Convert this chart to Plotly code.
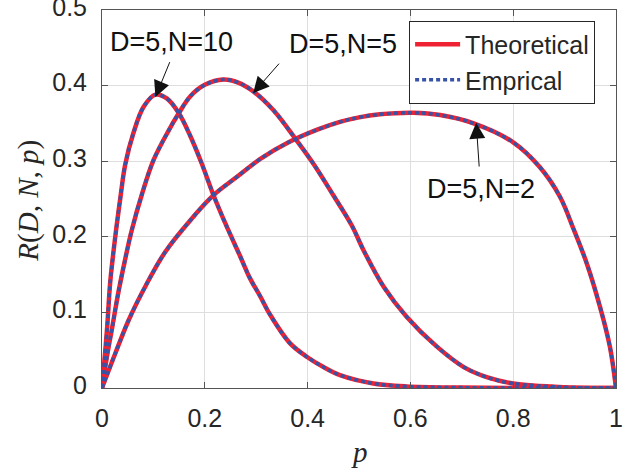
import plotly.graph_objects as go

# ---- data ----
p_n10 = [0, 0.0097, 0.016, 0.026, 0.036, 0.045, 0.061, 0.081, 0.104, 0.126, 0.149, 0.172, 0.194,
         0.217, 0.243, 0.269, 0.288, 0.308, 0.327, 0.366, 0.399, 0.430, 0.463, 0.528, 0.593, 0.70, 0.85, 1.0]
r_n10 = [0, 0.077, 0.140, 0.201, 0.253, 0.295, 0.337, 0.372, 0.388, 0.383, 0.364, 0.333, 0.297,
         0.255, 0.213, 0.174, 0.145, 0.121, 0.097, 0.059, 0.041, 0.028, 0.017, 0.006, 0.002, 0.0005, 0, 0]

p_n5 = [0, 0.010, 0.019, 0.032, 0.045, 0.058, 0.078, 0.100, 0.126, 0.149, 0.172, 0.200, 0.236, 0.265,
        0.295, 0.334, 0.376, 0.411, 0.450, 0.486, 0.509, 0.548, 0.593, 0.651, 0.703, 0.750, 0.800, 0.90, 1.0]
r_n5 = [0, 0.043, 0.077, 0.127, 0.170, 0.209, 0.257, 0.301, 0.336, 0.363, 0.386, 0.401, 0.408, 0.404,
        0.392, 0.367, 0.330, 0.297, 0.255, 0.215, 0.182, 0.134, 0.094, 0.055, 0.028, 0.014, 0.006, 0.001, 0]

p_n2 = [0, 0.026, 0.052, 0.084, 0.123, 0.172, 0.217, 0.262, 0.308, 0.363, 0.420, 0.463, 0.500,
        0.541, 0.606, 0.658, 0.723, 0.800, 0.852, 0.891, 0.917, 0.943, 0.969, 0.988, 1.0]
r_n2 = [0, 0.046, 0.090, 0.134, 0.180, 0.222, 0.255, 0.279, 0.303, 0.325, 0.342, 0.352, 0.358,
        0.362, 0.364, 0.361, 0.350, 0.325, 0.292, 0.253, 0.211, 0.165, 0.107, 0.055, 0]

x_ticks = [0, 0.2, 0.4, 0.6, 0.8, 1]
y_ticks = [0, 0.1, 0.2, 0.3, 0.4, 0.5]

curves = [(p_n10, r_n10), (p_n5, r_n5), (p_n2, r_n2)]

RED = "#ef2233"
BLUE = "#3653a6"
TXT = "#262626"

fig = go.Figure()
for i, (px, ry) in enumerate(curves):
    fig.add_trace(go.Scatter(x=px, y=ry, mode="lines", name="Theoretical",
                             line=dict(color=RED, width=4.5, shape="spline", smoothing=1.0),
                             showlegend=(i == 0), legendrank=1))
for i, (px, ry) in enumerate(curves):
    fig.add_trace(go.Scatter(x=px, y=ry, mode="lines", name="Emprical",
                             line=dict(color=BLUE, width=3.5, dash="4px,3px", shape="spline", smoothing=1.0),
                             showlegend=(i == 0), legendrank=2))

axis_common = dict(showgrid=True, gridcolor="#dedede", gridwidth=1, zeroline=False,
                   showline=True, linecolor="#555555", linewidth=1, mirror="ticks",
                   ticks="inside", ticklen=6, tickcolor="#555555", automargin=False,
                   ticklabeloverflow="allow",
                   tickfont=dict(family="Liberation Sans, Arial", size=25, color=TXT))

fig.update_layout(
    width=632, height=475,
    margin=dict(l=102, r=16, t=10, b=87, autoexpand=False),
    paper_bgcolor="white", plot_bgcolor="white",
    xaxis=dict(range=[0, 1], tickvals=x_ticks, ticklabelstandoff=8, **axis_common),
    yaxis=dict(range=[0, 0.5], tickvals=y_ticks, ticklabelstandoff=9, ticklabelshift=-3, **axis_common),
    legend=dict(x=0.5975, y=0.972, xanchor="left", yanchor="top",
                bgcolor="white", bordercolor=TXT, borderwidth=1,
                font=dict(family="Liberation Sans, Arial", size=25, color=TXT),
                itemwidth=45, tracegroupgap=0),
    showlegend=True,
)

ann_font = dict(family="Liberation Sans, Arial", size=27, color="#111111")
# arrows (tail -> tip) and labels
arrows = [((0.133, 0.433), (0.104, 0.385)),
          ((0.347, 0.431), (0.294, 0.390)),
          ((0.734, 0.291), (0.728, 0.351))]
for (tx, ty), (hx, hy) in arrows:
    fig.add_annotation(x=hx, y=hy, ax=tx, ay=ty, xref="x", yref="y", axref="x", ayref="y",
                       text="", showarrow=True, arrowhead=2, arrowsize=3.2, arrowwidth=1,
                       arrowcolor="#111111")
labels = [("D=5,N=10", 0.135, 0.458), ("D=5,N=5", 0.469, 0.455), ("D=5,N=2", 0.737, 0.263)]
for t, lx, ly in labels:
    fig.add_annotation(x=lx, y=ly, xref="x", yref="y", text=t, showarrow=False,
                       font=ann_font, xanchor="center", yanchor="middle")

math_font = dict(family="Liberation Serif, Times New Roman", size=29, color=TXT)
fig.add_annotation(x=-0.143, y=0.497, xref="paper", yref="paper", textangle=-90,
                   text="<i>R</i>(<i>D</i>, <i>N</i>, <i>p</i>)", showarrow=False,
                   font=math_font, xanchor="center", yanchor="middle")
fig.add_annotation(x=0.5, y=-0.169, xref="paper", yref="paper",
                   text="<i>p</i>", showarrow=False,
                   font=math_font, xanchor="center", yanchor="middle")

fig.write_html("out.html", config={"displayModeBar": False},
               post_script="document.body.style.margin='0px';")
